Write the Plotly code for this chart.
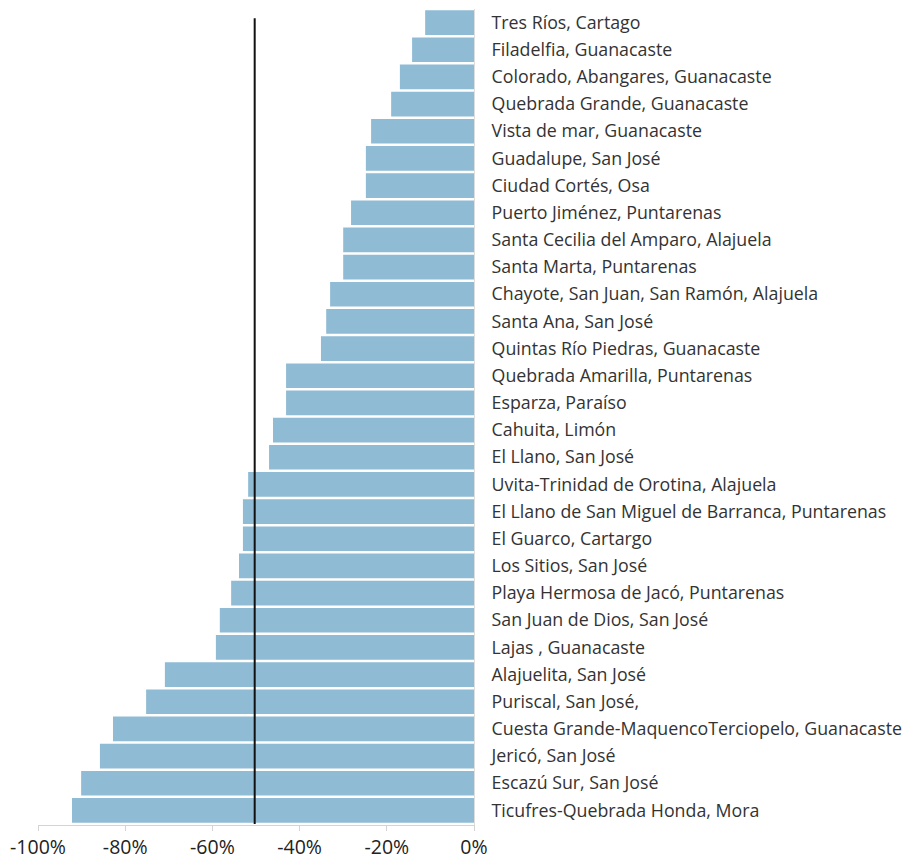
"""Horizontal bar chart of percentage change by locality."""

import plotly.graph_objects as go

localities = [
    "Tres Ríos, Cartago",
    "Filadelfia, Guanacaste",
    "Colorado, Abangares, Guanacaste",
    "Quebrada Grande, Guanacaste",
    "Vista de mar, Guanacaste",
    "Guadalupe, San José",
    "Ciudad Cortés, Osa",
    "Puerto Jiménez, Puntarenas",
    "Santa Cecilia del Amparo, Alajuela",
    "Santa Marta, Puntarenas",
    "Chayote, San Juan, San Ramón, Alajuela",
    "Santa Ana, San José",
    "Quintas Río Piedras, Guanacaste",
    "Quebrada Amarilla, Puntarenas",
    "Esparza, Paraíso",
    "Cahuita, Limón",
    "El Llano, San José",
    "Uvita-Trinidad de Orotina, Alajuela",
    "El Llano de San Miguel de Barranca, Puntarenas",
    "El Guarco, Cartargo",
    "Los Sitios, San José",
    "Playa Hermosa de Jacó, Puntarenas",
    "San Juan de Dios, San José",
    "Lajas , Guanacaste",
    "Alajuelita, San José",
    "Puriscal, San José,",
    "Cuesta Grande-MaquencoTerciopelo, Guanacaste",
    "Jericó, San José",
    "Escazú Sur, San José",
    "Ticufres-Quebrada Honda, Mora",
]
change_pct = [
    -11.2, -14.2, -17.0, -19.0, -23.6, -24.8, -24.8, -28.2, -30.0, -30.0,
    -33.0, -33.9, -35.1, -43.1, -43.1, -46.1, -47.0, -51.8, -53.0, -53.0,
    -53.9, -55.7, -58.3, -59.2, -70.9, -75.2, -82.8, -85.8, -90.1, -92.2,
]
reference_pct = -50.3
x_ticks = [-100, -80, -60, -40, -20, 0]
x_tick_labels = ["-100%", "-80%", "-60%", "-40%", "-20%", "0%"]

fig = go.Figure()
fig.add_bar(
    x=change_pct,
    y=localities,
    orientation="h",
    marker_color="#8fbbd4",
    marker_line_width=0,
    showlegend=False,
)
fig.add_shape(
    type="line",
    xref="x",
    yref="y",
    x0=reference_pct,
    x1=reference_pct,
    y0=len(localities) - 0.5,
    y1=-0.16,
    line=dict(color="#111111", width=2),
)
# the page body adds an 8px offset, so margins are set in figure coordinates
fig.update_layout(
    width=910,
    height=855,
    margin=dict(l=30, r=444, t=1, b=38, autoexpand=False),
    plot_bgcolor="white",
    paper_bgcolor="white",
    bargap=0.09,
    font=dict(family="Open Sans, sans-serif", size=17.8, color="#333333"),
)
fig.update_xaxes(
    range=[-100, 0],
    tickvals=x_ticks,
    ticktext=x_tick_labels,
    automargin=False,
    showgrid=False,
    zeroline=False,
    showline=True,
    linecolor="#d4d4d4",
    linewidth=1,
    ticks="outside",
    ticklen=5,
    tickcolor="#d4d4d4",
    tickfont=dict(size=19.5, color="#222222"),
)
fig.update_yaxes(
    categoryorder="array",
    categoryarray=localities,
    autorange="reversed",
    automargin=False,
    side="right",
    showgrid=False,
    zeroline=False,
    showline=True,
    linecolor="#dddddd",
    linewidth=1,
    ticks="outside",
    ticklen=13,
    tickcolor="rgba(0,0,0,0)",
)

fig.write_html("out.html")
